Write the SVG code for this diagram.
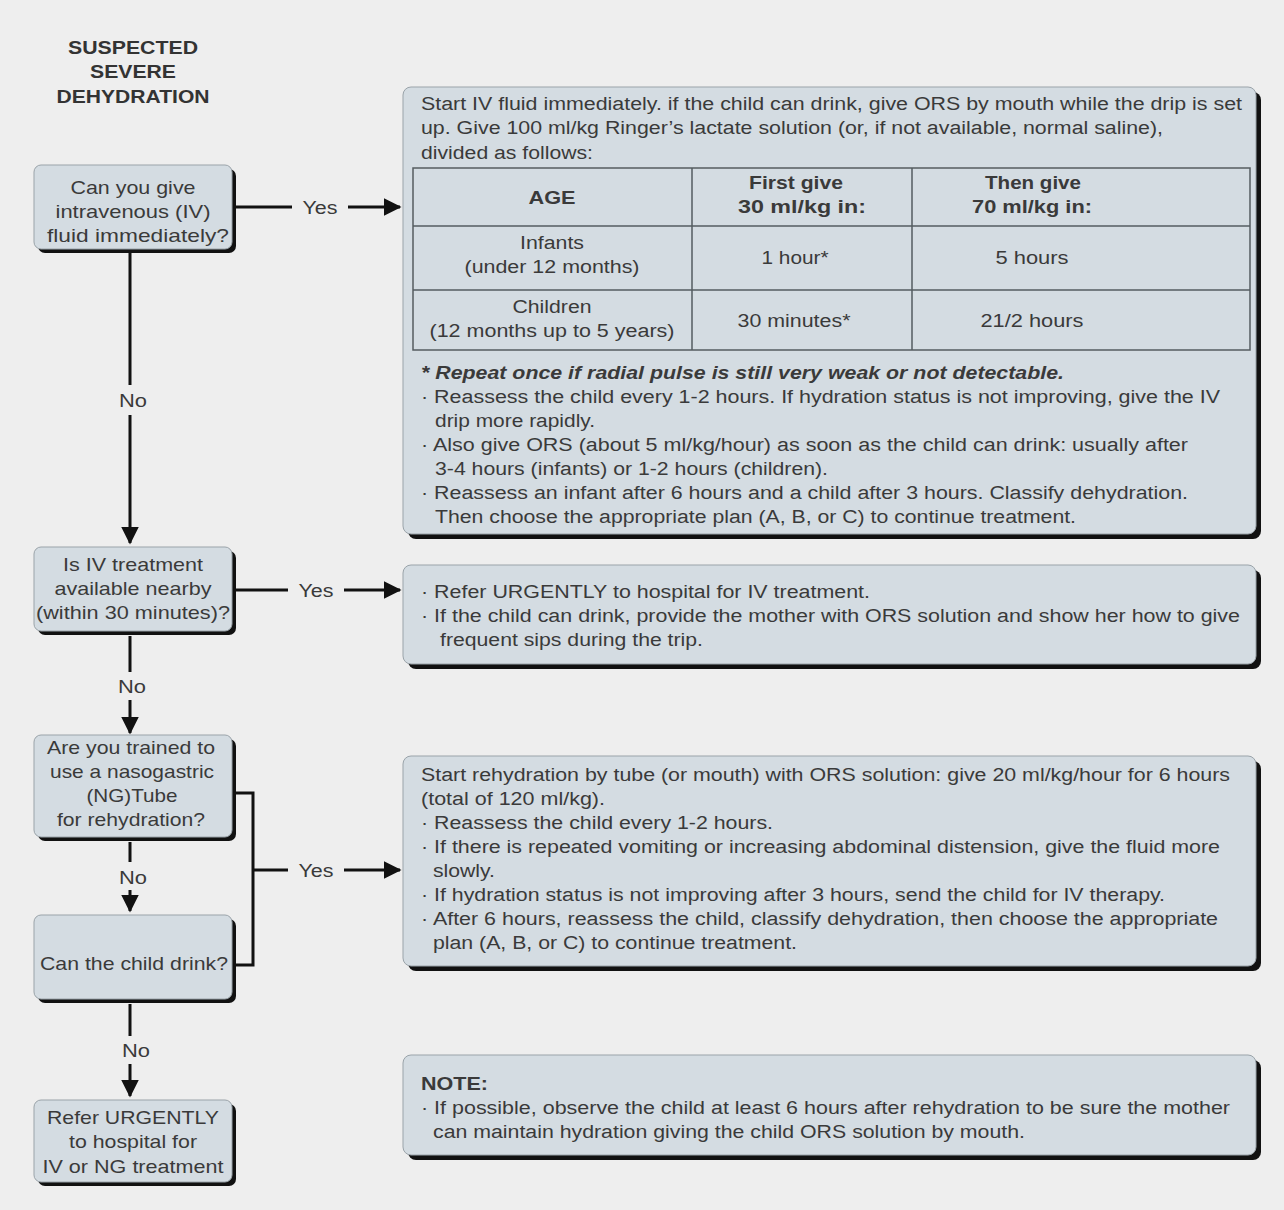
<svg xmlns="http://www.w3.org/2000/svg" width="1284" height="1210" viewBox="0 0 1284 1210">
<defs>
<style>
.bg{fill:#eeeeee}
.sh{fill:#111111}
.bx{fill:#d4dce2;stroke:#9aa3a9;stroke-width:1}
.t{font-family:"Liberation Sans",Arial,sans-serif;font-size:18px;fill:#3a3a3a}
.tl{font-family:"Liberation Sans",Arial,sans-serif;font-size:19px;fill:#3a3a3a;text-anchor:middle}
.tc{text-anchor:middle}
.b{font-weight:bold}
.bi{font-weight:bold;font-style:italic}
.ln{stroke:#111111;stroke-width:3;fill:none}
.tb{stroke:#555c60;stroke-width:1.5;fill:none}
.ttl{font-family:"Liberation Sans",Arial,sans-serif;font-size:19px;font-weight:bold;fill:#333333;text-anchor:middle}
</style>
<marker id="ah" markerWidth="6" markerHeight="6" refX="5.5" refY="3" orient="auto" markerUnits="strokeWidth">
<path d="M0,0 L6,3 L0,6 Z" fill="#111111"/>
</marker>
</defs>
<rect class="bg" x="0" y="0" width="1284" height="1210"/>

<g id="title">
<text class="ttl" x="133" y="54" textLength="130" lengthAdjust="spacingAndGlyphs">SUSPECTED</text>
<text class="ttl" x="133" y="78" textLength="86" lengthAdjust="spacingAndGlyphs">SEVERE</text>
<text class="ttl" x="133" y="103" textLength="153" lengthAdjust="spacingAndGlyphs">DEHYDRATION</text>
</g>

<g id="connectors">
<line class="ln" x1="236" y1="207" x2="292" y2="207"/>
<line class="ln" x1="348" y1="207" x2="400" y2="207" marker-end="url(#ah)"/>
<text class="t tc" x="320" y="214" textLength="35" lengthAdjust="spacingAndGlyphs">Yes</text>
<line class="ln" x1="130" y1="252" x2="130" y2="385"/>
<line class="ln" x1="130" y1="415" x2="130" y2="543" marker-end="url(#ah)"/>
<text class="t tc" x="133" y="407" textLength="28" lengthAdjust="spacingAndGlyphs">No</text>

<line class="ln" x1="236" y1="590" x2="288" y2="590"/>
<line class="ln" x1="344" y1="590" x2="400" y2="590" marker-end="url(#ah)"/>
<text class="t tc" x="316" y="597" textLength="35" lengthAdjust="spacingAndGlyphs">Yes</text>
<line class="ln" x1="130" y1="636" x2="130" y2="672"/>
<line class="ln" x1="130" y1="700" x2="130" y2="733" marker-end="url(#ah)"/>
<text class="t tc" x="132" y="693" textLength="28" lengthAdjust="spacingAndGlyphs">No</text>

<line class="ln" x1="130" y1="842" x2="130" y2="862"/>
<line class="ln" x1="130" y1="890" x2="130" y2="911" marker-end="url(#ah)"/>
<text class="t tc" x="133" y="884" textLength="28" lengthAdjust="spacingAndGlyphs">No</text>

<polyline class="ln" points="236,793 253,793 253,965 236,965"/>
<line class="ln" x1="253" y1="870" x2="288" y2="870"/>
<line class="ln" x1="344" y1="870" x2="400" y2="870" marker-end="url(#ah)"/>
<text class="t tc" x="316" y="877" textLength="35" lengthAdjust="spacingAndGlyphs">Yes</text>

<line class="ln" x1="130" y1="1004" x2="130" y2="1036"/>
<line class="ln" x1="130" y1="1064" x2="130" y2="1096" marker-end="url(#ah)"/>
<text class="t tc" x="136" y="1057" textLength="28" lengthAdjust="spacingAndGlyphs">No</text>
</g>

<g id="q1">
<rect class="sh" x="38" y="169" width="198" height="84" rx="7"/>
<rect class="bx" x="34" y="165" width="198" height="84" rx="7"/>
<text class="tl" x="133" y="194" textLength="125" lengthAdjust="spacingAndGlyphs">Can you give</text>
<text class="tl" x="133" y="218" textLength="155" lengthAdjust="spacingAndGlyphs">intravenous (IV)</text>
<text class="tl" x="138" y="242" textLength="182" lengthAdjust="spacingAndGlyphs">fluid immediately?</text>
</g>

<g id="q2">
<rect class="sh" x="38" y="551" width="198" height="84" rx="7"/>
<rect class="bx" x="34" y="547" width="198" height="84" rx="7"/>
<text class="tl" x="133" y="571" textLength="140" lengthAdjust="spacingAndGlyphs">Is IV treatment</text>
<text class="tl" x="133" y="595" textLength="157" lengthAdjust="spacingAndGlyphs">available nearby</text>
<text class="tl" x="133" y="619" textLength="194" lengthAdjust="spacingAndGlyphs">(within 30 minutes)?</text>
</g>

<g id="q3">
<rect class="sh" x="38" y="739" width="198" height="102" rx="7"/>
<rect class="bx" x="34" y="735" width="198" height="102" rx="7"/>
<text class="tl" x="131" y="754" textLength="168" lengthAdjust="spacingAndGlyphs">Are you trained to</text>
<text class="tl" x="132" y="778" textLength="164" lengthAdjust="spacingAndGlyphs">use a nasogastric</text>
<text class="tl" x="132" y="802" textLength="91" lengthAdjust="spacingAndGlyphs">(NG)Tube</text>
<text class="tl" x="131" y="826" textLength="148" lengthAdjust="spacingAndGlyphs">for rehydration?</text>
</g>

<g id="q4">
<rect class="sh" x="38" y="919" width="198" height="84" rx="7"/>
<rect class="bx" x="34" y="915" width="198" height="84" rx="7"/>
<text class="tl" x="134" y="970" textLength="188" lengthAdjust="spacingAndGlyphs">Can the child drink?</text>
</g>

<g id="refer">
<rect class="sh" x="38" y="1104" width="198" height="82" rx="7"/>
<rect class="bx" x="34" y="1100" width="198" height="82" rx="7"/>
<text class="tl" x="133" y="1124" textLength="172" lengthAdjust="spacingAndGlyphs">Refer URGENTLY</text>
<text class="tl" x="133" y="1148" textLength="128" lengthAdjust="spacingAndGlyphs">to hospital for</text>
<text class="tl" x="133" y="1173" textLength="181" lengthAdjust="spacingAndGlyphs">IV or NG treatment</text>
</g>

<g id="iv-plan">
<rect class="sh" x="408" y="92" width="853" height="447" rx="8"/>
<rect class="bx" x="403" y="87" width="853" height="447" rx="8"/>
<text class="t" x="421" y="110" textLength="821" lengthAdjust="spacingAndGlyphs">Start IV fluid immediately. if the child can drink, give ORS by mouth while the drip is set</text>
<text class="t" x="421" y="134" textLength="742" lengthAdjust="spacingAndGlyphs">up. Give 100 ml/kg Ringer’s lactate solution (or, if not available, normal saline),</text>
<text class="t" x="421" y="159" textLength="172" lengthAdjust="spacingAndGlyphs">divided as follows:</text>
<rect class="tb" x="413" y="168" width="837" height="182"/>
<line class="tb" x1="413" y1="226" x2="1250" y2="226"/>
<line class="tb" x1="413" y1="290" x2="1250" y2="290"/>
<line class="tb" x1="692" y1="168" x2="692" y2="350"/>
<line class="tb" x1="912" y1="168" x2="912" y2="350"/>
<text class="t tc b" x="552" y="204" textLength="47" lengthAdjust="spacingAndGlyphs">AGE</text>
<text class="t tc b" x="796" y="189" textLength="94" lengthAdjust="spacingAndGlyphs">First give</text>
<text class="t tc b" x="802" y="213" textLength="128" lengthAdjust="spacingAndGlyphs">30 ml/kg in:</text>
<text class="t tc b" x="1033" y="189" textLength="96" lengthAdjust="spacingAndGlyphs">Then give</text>
<text class="t tc b" x="1032" y="213" textLength="120" lengthAdjust="spacingAndGlyphs">70 ml/kg in:</text>
<text class="t tc" x="552" y="249" textLength="64" lengthAdjust="spacingAndGlyphs">Infants</text>
<text class="t tc" x="552" y="273" textLength="175" lengthAdjust="spacingAndGlyphs">(under 12 months)</text>
<text class="t tc" x="795" y="264" textLength="67" lengthAdjust="spacingAndGlyphs">1 hour*</text>
<text class="t tc" x="1032" y="264" textLength="73" lengthAdjust="spacingAndGlyphs">5 hours</text>
<text class="t tc" x="552" y="313" textLength="79" lengthAdjust="spacingAndGlyphs">Children</text>
<text class="t tc" x="552" y="337" textLength="245" lengthAdjust="spacingAndGlyphs">(12 months up to 5 years)</text>
<text class="t tc" x="794" y="327" textLength="113" lengthAdjust="spacingAndGlyphs">30 minutes*</text>
<text class="t tc" x="1032" y="327" textLength="103" lengthAdjust="spacingAndGlyphs">21/2 hours</text>
<text class="t bi" x="421" y="379" textLength="643" lengthAdjust="spacingAndGlyphs">* Repeat once if radial pulse is still very weak or not detectable.</text>
<text class="t" x="421" y="403" textLength="799" lengthAdjust="spacingAndGlyphs">· Reassess the child every 1-2 hours. If hydration status is not improving, give the IV</text>
<text class="t" x="435" y="427" textLength="160" lengthAdjust="spacingAndGlyphs">drip more rapidly.</text>
<text class="t" x="421" y="451" textLength="767" lengthAdjust="spacingAndGlyphs">· Also give ORS (about 5 ml/kg/hour) as soon as the child can drink: usually after</text>
<text class="t" x="435" y="475" textLength="393" lengthAdjust="spacingAndGlyphs">3-4 hours (infants) or 1-2 hours (children).</text>
<text class="t" x="421" y="499" textLength="767" lengthAdjust="spacingAndGlyphs">· Reassess an infant after 6 hours and a child after 3 hours. Classify dehydration.</text>
<text class="t" x="435" y="523" textLength="641" lengthAdjust="spacingAndGlyphs">Then choose the appropriate plan (A, B, or C) to continue treatment.</text>
</g>

<g id="refer-iv">
<rect class="sh" x="408" y="570" width="853" height="99" rx="8"/>
<rect class="bx" x="403" y="565" width="853" height="99" rx="8"/>
<text class="t" x="421" y="598" textLength="449" lengthAdjust="spacingAndGlyphs">· Refer URGENTLY to hospital for IV treatment.</text>
<text class="t" x="421" y="622" textLength="819" lengthAdjust="spacingAndGlyphs">· If the child can drink, provide the mother with ORS solution and show her how to give</text>
<text class="t" x="440" y="646" textLength="263" lengthAdjust="spacingAndGlyphs">frequent sips during the trip.</text>
</g>

<g id="ng-plan">
<rect class="sh" x="408" y="761" width="853" height="210" rx="8"/>
<rect class="bx" x="403" y="756" width="853" height="210" rx="8"/>
<text class="t" x="421" y="781" textLength="809" lengthAdjust="spacingAndGlyphs">Start rehydration by tube (or mouth) with ORS solution: give 20 ml/kg/hour for 6 hours</text>
<text class="t" x="421" y="805" textLength="184" lengthAdjust="spacingAndGlyphs">(total of 120 ml/kg).</text>
<text class="t" x="421" y="829" textLength="352" lengthAdjust="spacingAndGlyphs">· Reassess the child every 1-2 hours.</text>
<text class="t" x="421" y="853" textLength="799" lengthAdjust="spacingAndGlyphs">· If there is repeated vomiting or increasing abdominal distension, give the fluid more</text>
<text class="t" x="433" y="877" textLength="62" lengthAdjust="spacingAndGlyphs">slowly.</text>
<text class="t" x="421" y="901" textLength="744" lengthAdjust="spacingAndGlyphs">· If hydration status is not improving after 3 hours, send the child for IV therapy.</text>
<text class="t" x="421" y="925" textLength="797" lengthAdjust="spacingAndGlyphs">· After 6 hours, reassess the child, classify dehydration, then choose the appropriate</text>
<text class="t" x="433" y="949" textLength="364" lengthAdjust="spacingAndGlyphs">plan (A, B, or C) to continue treatment.</text>
</g>

<g id="note">
<rect class="sh" x="408" y="1060" width="853" height="100" rx="8"/>
<rect class="bx" x="403" y="1055" width="853" height="100" rx="8"/>
<text class="t b" x="421" y="1090" textLength="67" lengthAdjust="spacingAndGlyphs">NOTE:</text>
<text class="t" x="421" y="1114" textLength="809" lengthAdjust="spacingAndGlyphs">· If possible, observe the child at least 6 hours after rehydration to be sure the mother</text>
<text class="t" x="433" y="1138" textLength="592" lengthAdjust="spacingAndGlyphs">can maintain hydration giving the child ORS solution by mouth.</text>
</g>
</svg>
